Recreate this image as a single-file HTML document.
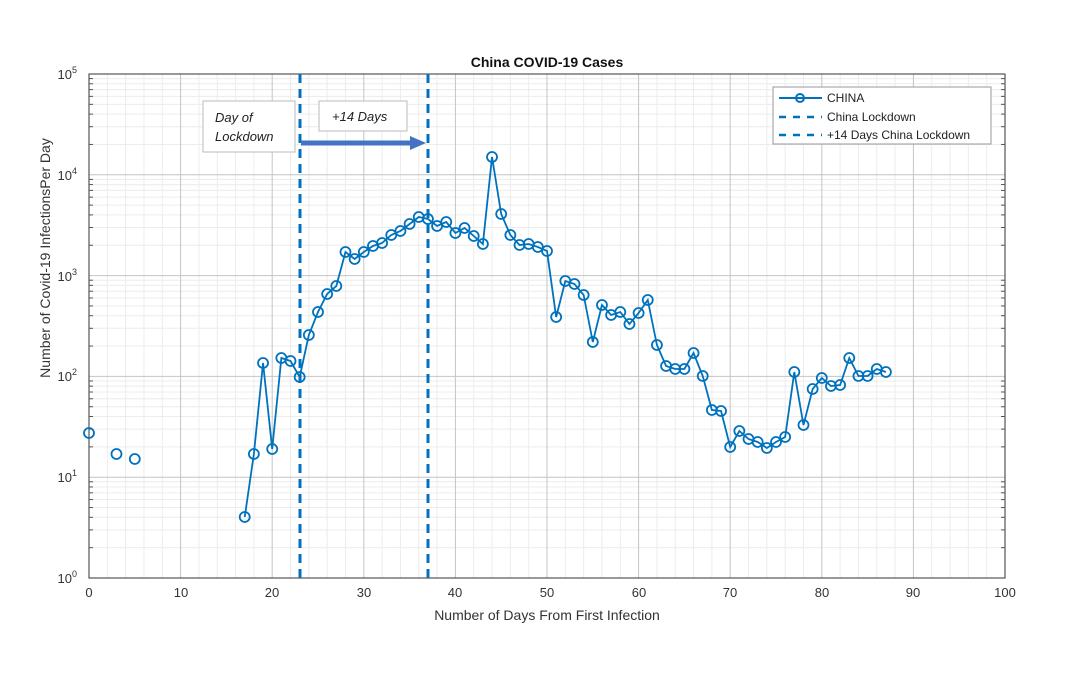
<!DOCTYPE html>
<html><head><meta charset="utf-8"><style>
html,body{margin:0;padding:0;background:#fff;}
svg{display:block;font-family:"Liberation Sans",Arial,sans-serif;}
</style></head><body>
<svg id="s" width="1080" height="675" viewBox="0 0 1080 675" xmlns="http://www.w3.org/2000/svg">
<rect width="1080" height="675" fill="#fff"/>
<g id="grid"></g>
<rect x="89" y="74" width="916" height="504" fill="none" stroke="#333" stroke-width="1"/>
<g id="ticks"></g>
<line x1="300" y1="74" x2="300" y2="578" stroke="#0072BD" stroke-width="3" stroke-dasharray="9,6"/>
<line x1="428" y1="74" x2="428" y2="578" stroke="#0072BD" stroke-width="3" stroke-dasharray="9,6"/>
<g id="series"></g>
<rect x="203" y="101" width="92" height="51" fill="#fff" stroke="#bbb"/>
<text x="215" y="122" font-size="13" font-style="italic" fill="#222">Day of</text>
<text x="215" y="141" font-size="13" font-style="italic" fill="#222">Lockdown</text>
<rect x="319" y="101" width="88" height="30" fill="#fff" stroke="#bbb"/>
<text x="332" y="121" font-size="13" font-style="italic" fill="#222">+14 Days</text>
<line x1="301" y1="143" x2="412" y2="143" stroke="#4472C4" stroke-width="5"/>
<polygon points="410,136 426,143 410,150" fill="#4472C4"/>
<text x="547" y="67" font-size="14" font-weight="bold" text-anchor="middle" fill="#111">China COVID-19 Cases</text>
<g font-size="13" fill="#333" text-anchor="middle">
<text x="89" y="597">0</text><text x="181" y="597">10</text><text x="272" y="597">20</text><text x="364" y="597">30</text><text x="455" y="597">40</text><text x="547" y="597">50</text><text x="639" y="597">60</text><text x="730" y="597">70</text><text x="822" y="597">80</text><text x="913" y="597">90</text><text x="1005" y="597">100</text>
</g>
<g font-size="13" fill="#333" text-anchor="end">
<text x="77" y="583">10<tspan font-size="9" dy="-6">0</tspan></text>
<text x="77" y="482">10<tspan font-size="9" dy="-6">1</tspan></text>
<text x="77" y="381">10<tspan font-size="9" dy="-6">2</tspan></text>
<text x="77" y="281">10<tspan font-size="9" dy="-6">3</tspan></text>
<text x="77" y="180">10<tspan font-size="9" dy="-6">4</tspan></text>
<text x="77" y="79">10<tspan font-size="9" dy="-6">5</tspan></text>
</g>
<text x="547" y="620" font-size="14" text-anchor="middle" fill="#333">Number of Days From First Infection</text>
<text transform="translate(50,258) rotate(-90)" font-size="14" text-anchor="middle" fill="#333">Number of Covid-19 InfectionsPer Day</text>
<rect x="773" y="87" width="218" height="57" fill="#fff" stroke="#999"/>
<line x1="779" y1="98" x2="822" y2="98" stroke="#0072BD" stroke-width="2"/>
<circle cx="800" cy="98" r="4" fill="none" stroke="#0072BD" stroke-width="2"/>
<line x1="779" y1="117" x2="822" y2="117" stroke="#0072BD" stroke-width="2.5" stroke-dasharray="7,7"/>
<line x1="779" y1="135" x2="822" y2="135" stroke="#0072BD" stroke-width="2.5" stroke-dasharray="7,7"/>
<g font-size="12" fill="#222">
<text x="827" y="102">CHINA</text>
<text x="827" y="121">China Lockdown</text>
<text x="827" y="139">+14 Days China Lockdown</text>
</g>
</svg>
<script>
(function(){
var NS="http://www.w3.org/2000/svg";
function el(p,t,a){var e=document.createElementNS(NS,t);for(var k in a)e.setAttribute(k,a[k]);document.getElementById(p).appendChild(e);return e;}
function px(x){return 89+9.16*x;}
var yTop=74,bot=578,dec=100.8;
for(var x=2;x<100;x+=2){if(x%10)el('grid','line',{x1:px(x),y1:yTop,x2:px(x),y2:bot,stroke:'#ececec','stroke-width':1});}
for(var d=0;d<5;d++){for(var m=2;m<10;m++){var y=bot-dec*(d+Math.log10(m));el('grid','line',{x1:89,y1:y,x2:1005,y2:y,stroke:'#ececec','stroke-width':1});
el('ticks','line',{x1:89,y1:y,x2:93,y2:y,stroke:'#555'});el('ticks','line',{x1:1001,y1:y,x2:1005,y2:y,stroke:'#555'});}}
for(var x=10;x<100;x+=10)el('grid','line',{x1:px(x),y1:yTop,x2:px(x),y2:bot,stroke:'#c4c4c4','stroke-width':1});
for(var d=1;d<5;d++){var y=bot-dec*d;el('grid','line',{x1:89,y1:y,x2:1005,y2:y,stroke:'#c4c4c4','stroke-width':1});}
var D=[[0,433],[3,454],[5,459],[17,517],[18,454],[19,363],[20,449],[21,358],[22,361],[23,377],[24,335],[25,312],[26,294],[27,286],[28,252],[29,259],[30,252],[31,246],[32,243],[33,235],[34,231],[35,224],[36,217],[37,219],[38,226],[39,222],[40,233],[41,228],[42,236],[43,244],[44,157],[45,214],[46,235],[47,245],[48,244],[49,247],[50,251],[51,317],[52,281],[53,284],[54,295],[55,342],[56,305],[57,315],[58,312],[59,324],[60,313],[61,300],[62,345],[63,366],[64,369],[65,369],[66,353],[67,376],[68,410],[69,411],[70,447],[71,431],[72,439],[73,442],[74,448],[75,442],[76,437],[77,372],[78,425],[79,389],[80,378],[81,386],[82,385],[83,358],[84,376],[85,376],[86,369],[87,372]];
var pts=D.filter(function(p){return p[0]>=17;}).map(function(p){return px(p[0])+','+p[1];}).join(' ');
el('series','polyline',{points:pts,fill:'none',stroke:'#0072BD','stroke-width':1.8});
D.forEach(function(p){el('series','circle',{cx:px(p[0]),cy:p[1],r:5,fill:'none',stroke:'#0072BD','stroke-width':1.8});});
})();
</script>
</body></html>
